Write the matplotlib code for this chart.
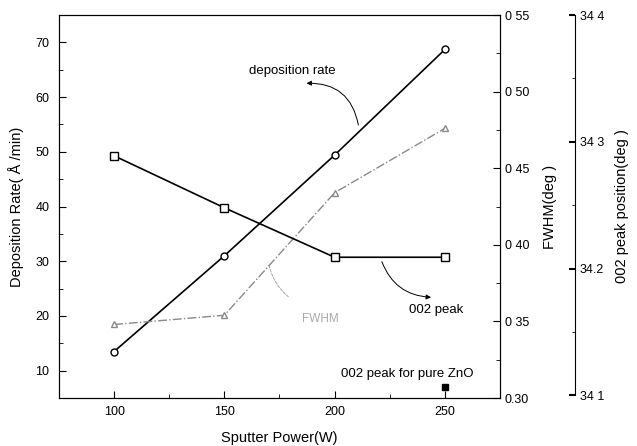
import matplotlib
matplotlib.use("Agg")
import matplotlib.pyplot as plt
from matplotlib.ticker import FixedLocator, FixedFormatter

plt.rcParams['font.family'] = ['Liberation Sans', 'DejaVu Sans']

# data
power = [100, 150, 200, 250]
dep_rate = [13.5, 31.0, 49.4, 68.7]          # left axis, A/min
fwhm = [0.348, 0.354, 0.434, 0.476]           # FWHM axis, deg
peak_pos = [34.289, 34.248, 34.209, 34.209]   # 002 peak position, deg
pure_zno_power = [250]
pure_zno_peak = [34.107]

fwhm_ticks = [0.30, 0.35, 0.40, 0.45, 0.50, 0.55]
fwhm_labels = ['0.30', '0 35', '0 40', '0 45', '0 50', '0 55']
peak_ticks = [34.1, 34.2, 34.3, 34.4]
peak_labels = ['34 1', '34.2', '34 3', '34 4']

fig = plt.figure(figsize=(6.37, 4.46), dpi=100)
ax = fig.add_axes([0.0926, 0.1076, 0.6923, 0.8587])
ax2 = ax.twinx()
ax3 = ax.twinx()

# deposition rate
ax.plot(power, dep_rate, color='black', lw=1.2, marker='o', ms=5,
        mfc='white', mec='black', zorder=3)
ax.set_xlim(75, 275)
ax.set_ylim(5, 75)
ax.xaxis.set_major_locator(FixedLocator([100, 150, 200, 250]))
ax.xaxis.set_minor_locator(FixedLocator([125, 175, 225]))
ax.yaxis.set_major_locator(FixedLocator([10, 20, 30, 40, 50, 60, 70]))
ax.yaxis.set_minor_locator(FixedLocator([15, 25, 35, 45, 55, 65]))
ax.tick_params(which='both', direction='in', labelsize=9)
ax.tick_params(which='major', length=5)
ax.tick_params(which='minor', length=3)
ax.tick_params(axis='y', pad=7)
ax.tick_params(axis='x', pad=6)
ax.set_xlabel('Sputter Power(W)', fontsize=10.5, labelpad=9)
ax.set_ylabel('Deposition Rate( Å /min)', fontsize=10.5, labelpad=8)

# FWHM
ax2.plot(power, fwhm, color='#8a8a8a', lw=1.0, ls='-.', marker='^', ms=4,
         mfc='white', mec='#8a8a8a')
ax2.set_ylim(0.30, 0.55)
ax2.yaxis.set_major_locator(FixedLocator(fwhm_ticks))
ax2.yaxis.set_major_formatter(FixedFormatter(fwhm_labels))
ax2.yaxis.set_minor_locator(FixedLocator([0.325, 0.375, 0.425, 0.475, 0.525]))
ax2.tick_params(which='both', direction='in', labelsize=9)
ax2.tick_params(which='major', length=5)
ax2.tick_params(which='minor', length=3)
ax2.set_ylabel('FWHM(deg )', fontsize=10.5, labelpad=10)

# 002 peak position
ax3.spines['right'].set_position(('axes', 1.17))
ax3.spines['right'].set_bounds(34.1, 34.4)
for s in ['top', 'left', 'bottom']:
    ax3.spines[s].set_visible(False)
ax3.plot(power, peak_pos, color='black', lw=1.2, marker='s', ms=6,
         mfc='white', mec='black', zorder=3)
ax3.plot(pure_zno_power, pure_zno_peak, ls='none', marker='s', ms=5,
         mfc='black', mec='black')
ax3.set_ylim(34.098, 34.4)
ax3.yaxis.set_major_locator(FixedLocator(peak_ticks))
ax3.yaxis.set_major_formatter(FixedFormatter(peak_labels))
ax3.yaxis.set_minor_locator(FixedLocator([34.15, 34.25, 34.35]))
ax3.tick_params(which='both', direction='in', labelsize=9)
ax3.tick_params(which='major', length=4, width=1.5)
ax3.tick_params(which='minor', length=2)
ax3.set_ylabel('002 peak position(deg )', fontsize=10.5, labelpad=8)

# annotations
ax.text(181, 64.7, 'deposition rate', fontsize=9.5, ha='center', va='center')
ax.annotate('', xy=(186, 62.5), xytext=(211, 54.4),
            arrowprops=dict(arrowstyle='-|>', color='black', lw=0.7,
                            mutation_scale=7,
                            connectionstyle='arc3,rad=0.45'))
ax.text(246, 21.0, '002 peak', fontsize=9.5, ha='center', va='center')
ax.annotate('', xy=(245, 23.4), xytext=(221, 30.4),
            arrowprops=dict(arrowstyle='-|>', color='black', lw=0.7,
                            mutation_scale=7,
                            connectionstyle='arc3,rad=0.35'))
ax.text(193.6, 19.5, 'FWHM', fontsize=8.5, ha='center', va='center',
        color='#aaaaaa')
ax.annotate('', xy=(180, 23.2), xytext=(170, 29.8),
            arrowprops=dict(arrowstyle='-', color='#999999', lw=0.6,
                            ls='--', connectionstyle='arc3,rad=0.2'))
ax.text(233, 9.3, '002 peak for pure ZnO', fontsize=9.5, ha='center',
        va='center')

fig.savefig('out.png', dpi=100)
